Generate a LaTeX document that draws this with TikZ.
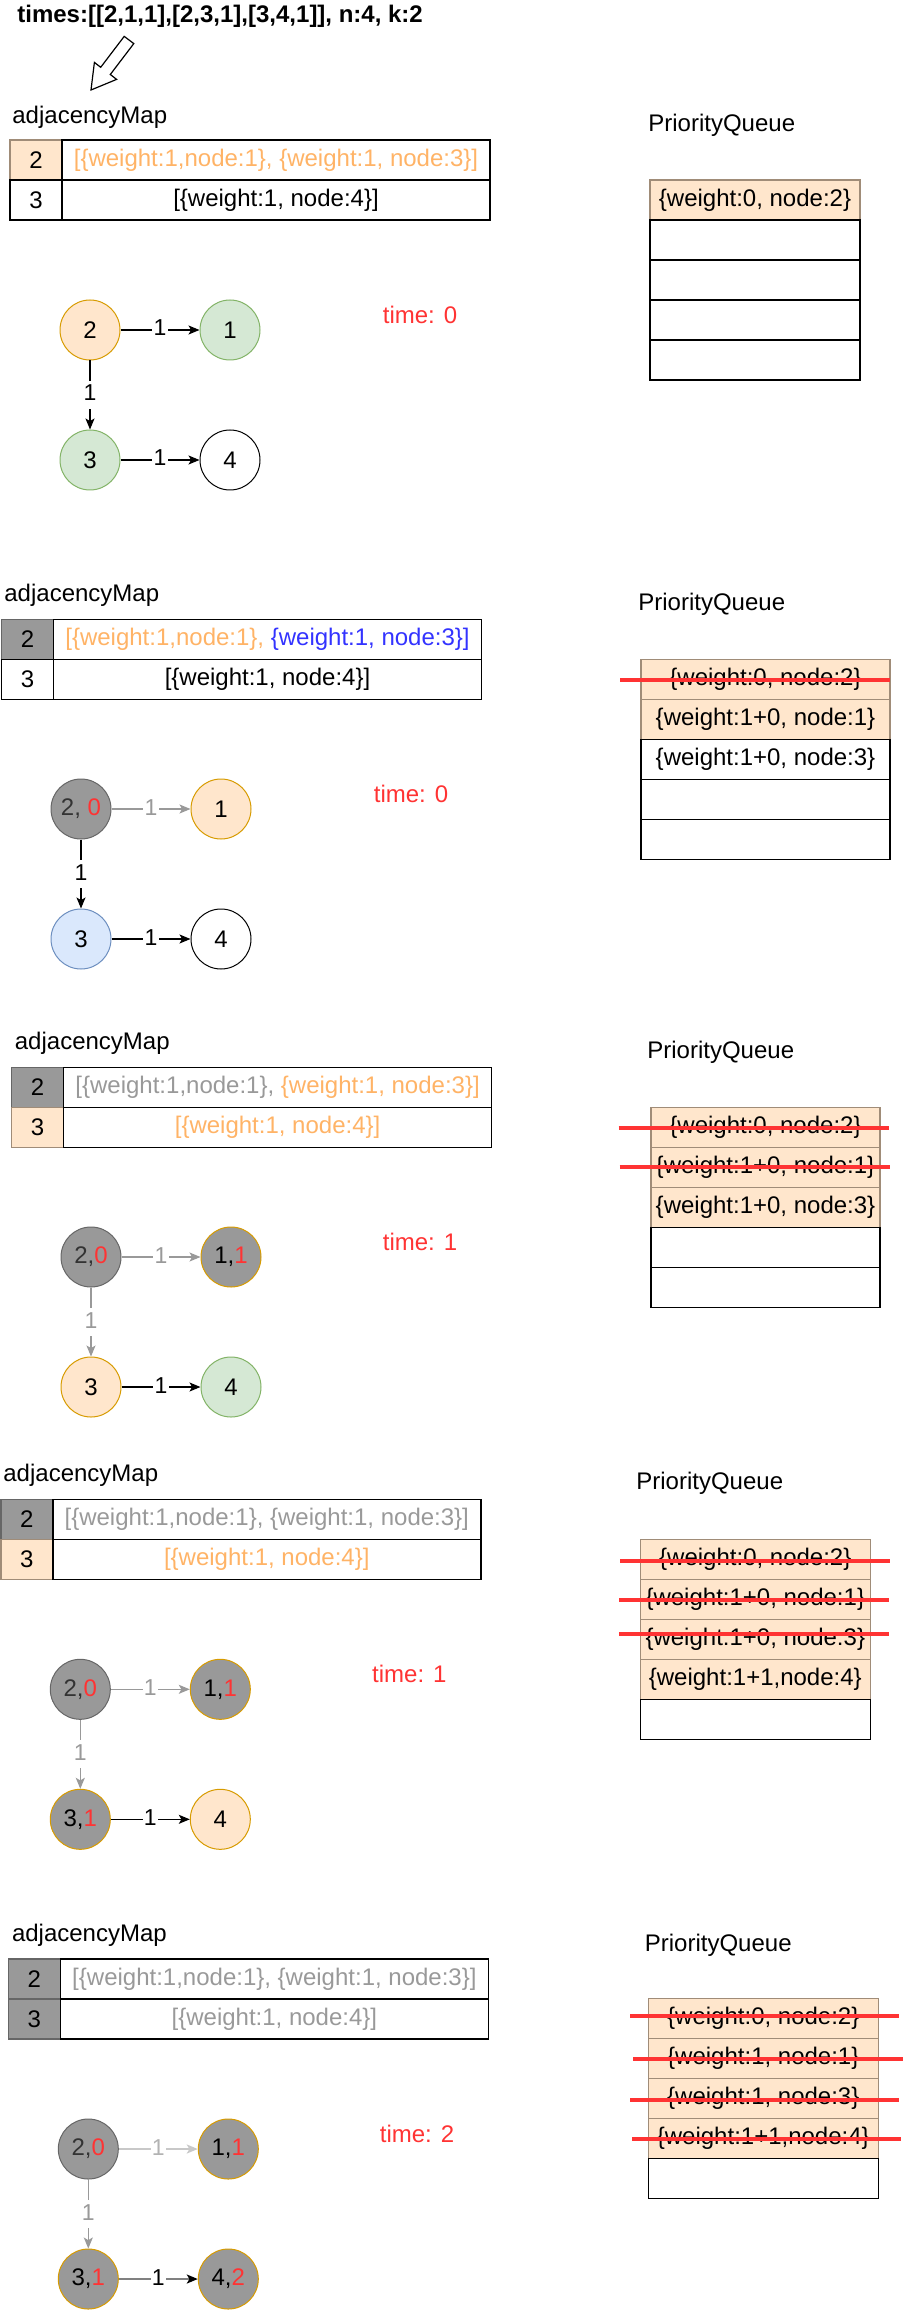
\documentclass[tikz,border=0pt]{standalone}
\usepackage{fontspec}
\setmainfont{Liberation Sans}
\usetikzlibrary{arrows.meta}

\definecolor{peachfill}{HTML}{FFE6CC}
\definecolor{peachline}{HTML}{D79B00}
\definecolor{pqline}{HTML}{A08C78}
\definecolor{greenfill}{HTML}{D5E8D4}
\definecolor{greenline}{HTML}{82B366}
\definecolor{bluefill}{HTML}{DAE8FC}
\definecolor{blueline}{HTML}{6C8EBF}
\definecolor{greyfill}{HTML}{999999}
\definecolor{greyline}{HTML}{666666}
\definecolor{greytext}{HTML}{999999}
\definecolor{lightgrey}{HTML}{C8C8C8}
\definecolor{midgrey}{HTML}{808080}
\definecolor{orangetext}{HTML}{FFB366}
\definecolor{bluetext}{HTML}{3333FF}
\definecolor{redtext}{HTML}{FF3333}
\definecolor{darktext}{HTML}{333333}

\begin{document}
\begin{tikzpicture}[x=0.5pt,y=-0.5pt,
	every node/.style={font=\fontsize{12}{14}\selectfont},
	tcell/.style={draw, minimum height=20pt, inner sep=0pt, line width=0.75pt},
	keycell/.style={tcell, minimum width=26pt},
	valcell/.style={tcell, minimum width=214pt},
	pqrow/.style={draw, minimum height=20pt, inner sep=0pt, line width=0.6pt},
	peachcell/.style={fill=peachfill, draw=pqline},
	graycell/.style={fill=greyfill, draw=greyline},
	vtx/.style={circle, draw, minimum size=30pt, inner sep=0pt, line width=0.5pt},
	peachv/.style={fill=peachfill, draw=peachline},
	greenv/.style={fill=greenfill, draw=greenline},
	bluev/.style={fill=bluefill, draw=blueline},
	grayv/.style={fill=greyfill, draw=greyline},
	donev/.style={fill=greyfill, draw=peachline},
	link/.style={-{Stealth[length=5.5pt,width=4.5pt,inset=1.3pt]}, line width=0.6pt},
	elabel/.style={fill=white, inner xsep=0.6pt, inner ysep=1.5pt, text height=8.5pt, text depth=2.5pt, font=\fontsize{11.5}{13}\selectfont},
	strikeout/.style={draw=redtext, line width=2pt},
	timelbl/.style={text=redtext}]
	\useasboundingbox (0,0) rectangle (907,2310);

	%% step 0
	\node[anchor=west, inner sep=0pt, font=\fontsize{12}{14}\selectfont\bfseries] (title) at (17,16) {times:[[2,1,1],[2,3,1],[3,4,1]], n:4, k:2};
	\draw[line width=0.6pt, fill=white] (133.8,43.6) -- (124.2,36.4) -- (100.7,67.3) -- (94.4,62.4) -- (91,90) -- (116.6,79.4) -- (110.3,74.5) -- cycle;
	\node[anchor=west, inner sep=0pt] (mapA) at (12,117) {adjacencyMap};
	\node[keycell, peachcell] (ka2) at (36,160) {2};
	\node[keycell] (ka3) at (36,200) {3};
	\node[valcell, text=orangetext] (va2) at (276,160) {[\{weight:1,node:1\}, \{weight:1, node:3\}]};
	\node[valcell] (va3) at (276,200) {[\{weight:1, node:4\}]};
	\node[anchor=west, inner sep=0pt] (pqA) at (648,125) {PriorityQueue};
	\node[pqrow, peachcell, minimum width=105pt] (qa1) at (755,200) {\{weight:0, node:2\}};
	\node[pqrow, minimum width=105pt] (qa2) at (755,240) {};
	\node[pqrow, minimum width=105pt] (qa3) at (755,280) {};
	\node[pqrow, minimum width=105pt] (qa4) at (755,320) {};
	\node[pqrow, minimum width=105pt] (qa5) at (755,360) {};
	\node[vtx, peachv] (a2) at (90,330) {2};
	\node[vtx, greenv] (a1) at (230,330) {1};
	\node[vtx, greenv] (a3) at (90,460) {3};
	\node[vtx] (a4) at (230,460) {4};
	\node[timelbl] (timeA) at (420,315) {time: 0};
	\draw[link] (a2) -- node[elabel] (la1) {1} (a1);
	\draw[link] (a2) -- node[elabel] (la3) {1} (a3);
	\draw[link] (a3) -- node[elabel] (la4) {1} (a4);

	%% step 1
	\node[anchor=west, inner sep=0pt] (mapB) at (4,595) {adjacencyMap};
	\node[keycell, graycell] (kb2) at (27.5,639.3) {2};
	\node[keycell] (kb3) at (27.5,679.3) {3};
	\node[valcell] (vb2) at (267.5,639.3) {\textcolor{orangetext}{[\{weight:1,node:1\}, }\textcolor{bluetext}{\{weight:1, node:3\}]}};
	\node[valcell] (vb3) at (267.5,679.3) {[\{weight:1, node:4\}]};
	\node[anchor=west, inner sep=0pt] (pqB) at (638,604) {PriorityQueue};
	\node[pqrow, peachcell, minimum width=124.5pt] (qb1) at (765.5,679.3) {\{weight:0, node:2\}};
	\node[pqrow, peachcell, minimum width=124.5pt] (qb2) at (765.5,719.3) {\{weight:1+0, node:1\}};
	\node[pqrow, minimum width=124.5pt] (qb3) at (765.5,759.3) {\{weight:1+0, node:3\}};
	\node[pqrow, minimum width=124.5pt] (qb4) at (765.5,799.3) {};
	\node[pqrow, minimum width=124.5pt] (qb5) at (765.5,839.3) {};
	\draw[strikeout] (620,680) -- (890,680);
	\node[vtx, grayv] (b2) at (81,809) {\textcolor{darktext}{2,} \textcolor{redtext}{0}};
	\node[vtx, peachv] (b1) at (221,809) {1};
	\node[vtx, bluev] (b3) at (81,939) {3};
	\node[vtx] (b4) at (221,939) {4};
	\node[timelbl] (timeB) at (411,794) {time: 0};
	\draw[link, greytext] (b2) -- node[elabel] (lb1) {1} (b1);
	\draw[link] (b2) -- node[elabel] (lb3) {1} (b3);
	\draw[link] (b3) -- node[elabel] (lb4) {1} (b4);

	%% step 2
	\node[anchor=west, inner sep=0pt] (mapC) at (14.5,1043) {adjacencyMap};
	\node[keycell, graycell] (kc2) at (37.6,1087.3) {2};
	\node[keycell, peachcell] (kc3) at (37.6,1127.3) {3};
	\node[valcell] (vc2) at (277.6,1087.3) {\textcolor{greytext}{[\{weight:1,node:1\}, }\textcolor{orangetext}{\{weight:1, node:3\}]}};
	\node[valcell, text=orangetext] (vc3) at (277.6,1127.3) {[\{weight:1, node:4\}]};
	\node[anchor=west, inner sep=0pt] (pqC) at (647,1052) {PriorityQueue};
	\node[pqrow, peachcell, minimum width=114.5pt] (qc1) at (765.5,1127.3) {\{weight:0, node:2\}};
	\node[pqrow, peachcell, minimum width=114.5pt] (qc2) at (765.5,1167.3) {\{weight:1+0, node:1\}};
	\node[pqrow, peachcell, minimum width=114.5pt] (qc3) at (765.5,1207.3) {\{weight:1+0, node:3\}};
	\node[pqrow, minimum width=114.5pt] (qc4) at (765.5,1247.3) {};
	\node[pqrow, minimum width=114.5pt] (qc5) at (765.5,1287.3) {};
	\draw[strikeout] (618.5,1128.3) -- (889,1128.3);
	\draw[strikeout] (619.5,1167.3) -- (890,1167.3);
	\node[vtx, grayv] (c2) at (91,1257) {\textcolor{darktext}{2,}\textcolor{redtext}{0}};
	\node[vtx, donev] (c1) at (231,1257) {1,\textcolor{redtext}{1}};
	\node[vtx, peachv] (c3) at (91,1387) {3};
	\node[vtx, greenv] (c4) at (231,1387) {4};
	\node[timelbl] (timeC) at (420,1242) {time: 1};
	\draw[link, greytext] (c2) -- node[elabel] (lc1) {1} (c1);
	\draw[link, greytext] (c2) -- node[elabel] (lc3) {1} (c3);
	\draw[link] (c3) -- node[elabel] (lc4) {1} (c4);

	%% step 3
	\node[anchor=west, inner sep=0pt] (mapD) at (3,1475) {adjacencyMap};
	\node[keycell, graycell] (kd2) at (26.8,1519.3) {2};
	\node[keycell, peachcell] (kd3) at (26.8,1559.3) {3};
	\node[valcell, text=greytext] (vd2) at (266.8,1519.3) {[\{weight:1,node:1\}, \{weight:1, node:3\}]};
	\node[valcell, text=orangetext] (vd3) at (266.8,1559.3) {[\{weight:1, node:4\}]};
	\node[anchor=west, inner sep=0pt] (pqD) at (636,1483) {PriorityQueue};
	\node[pqrow, peachcell, minimum width=115pt] (qd1) at (755.3,1559.3) {\{weight:0, node:2\}};
	\node[pqrow, peachcell, minimum width=115pt] (qd2) at (755.3,1599.3) {\{weight:1+0, node:1\}};
	\node[pqrow, peachcell, minimum width=115pt] (qd3) at (755.3,1639.3) {\{weight:1+0, node:3\}};
	\node[pqrow, peachcell, minimum width=115pt] (qd4) at (755.3,1679.3) {\{weight:1+1,node:4\}};
	\node[pqrow, minimum width=115pt] (qd5) at (755.3,1719.3) {};
	\draw[strikeout] (620,1561) -- (890,1561);
	\draw[strikeout] (619,1600.3) -- (889,1600.3);
	\draw[strikeout] (619,1634.3) -- (889,1634.3);
	\node[vtx, grayv] (d2) at (80.3,1689.3) {\textcolor{darktext}{2,}\textcolor{redtext}{0}};
	\node[vtx, donev] (d1) at (220.3,1689.3) {1,\textcolor{redtext}{1}};
	\node[vtx, donev] (d3) at (80.3,1819.3) {3,\textcolor{redtext}{1}};
	\node[vtx, peachv] (d4) at (220.3,1819.3) {4};
	\node[timelbl] (timeD) at (409.3,1674) {time: 1};
	\draw[link, greytext] (d2) -- node[elabel] (ld1) {1} (d1);
	\draw[link, greytext] (d2) -- node[elabel] (ld3) {1} (d3);
	\draw[link] (d3) -- node[elabel] (ld4) {1} (d4);

	%% step 4
	\node[anchor=west, inner sep=0pt] (mapE) at (11.6,1935) {adjacencyMap};
	\node[keycell, graycell] (ke2) at (34.4,1979) {2};
	\node[keycell, graycell] (ke3) at (34.4,2019) {3};
	\node[valcell, text=greytext] (ve2) at (274.4,1979) {[\{weight:1,node:1\}, \{weight:1, node:3\}]};
	\node[valcell, text=greytext] (ve3) at (274.4,2019) {[\{weight:1, node:4\}]};
	\node[anchor=west, inner sep=0pt] (pqE) at (644.5,1945) {PriorityQueue};
	\node[pqrow, peachcell, minimum width=115pt] (qe1) at (763.3,2018.3) {\{weight:0, node:2\}};
	\node[pqrow, peachcell, minimum width=115pt] (qe2) at (763.3,2058.3) {\{weight:1, node:1\}};
	\node[pqrow, peachcell, minimum width=115pt] (qe3) at (763.3,2098.3) {\{weight:1, node:3\}};
	\node[pqrow, peachcell, minimum width=115pt] (qe4) at (763.3,2138.3) {\{weight:1+1,node:4\}};
	\node[pqrow, minimum width=115pt] (qe5) at (763.3,2178.3) {};
	\draw[strikeout] (630,2016) -- (899,2016);
	\draw[strikeout] (633,2059) -- (903,2059);
	\draw[strikeout] (630,2100) -- (899,2100);
	\draw[strikeout] (632,2139) -- (901,2139);
	\node[vtx, grayv] (e2) at (88.3,2149) {\textcolor{darktext}{2,}\textcolor{redtext}{0}};
	\node[vtx, donev] (e1) at (228.3,2149) {1,\textcolor{redtext}{1}};
	\node[vtx, donev] (e3) at (88.3,2279) {3,\textcolor{redtext}{1}};
	\node[vtx, donev] (e4) at (228.3,2279) {4,\textcolor{redtext}{2}};
	\node[timelbl] (timeE) at (417,2134) {time: 2};
	\draw[link, lightgrey, line width=1pt] (e2) -- node[elabel, text=greytext!75] (le1) {1} (e1);
	\draw[link, greytext] (e2) -- node[elabel] (le3) {1} (e3);
	\draw[-{Stealth[length=5.5pt,width=4.5pt,inset=1.3pt,color=black]}, midgrey, line width=1pt] (e3) -- node[elabel, text=black] (le4) {1} (e4);
\end{tikzpicture}
\end{document}
